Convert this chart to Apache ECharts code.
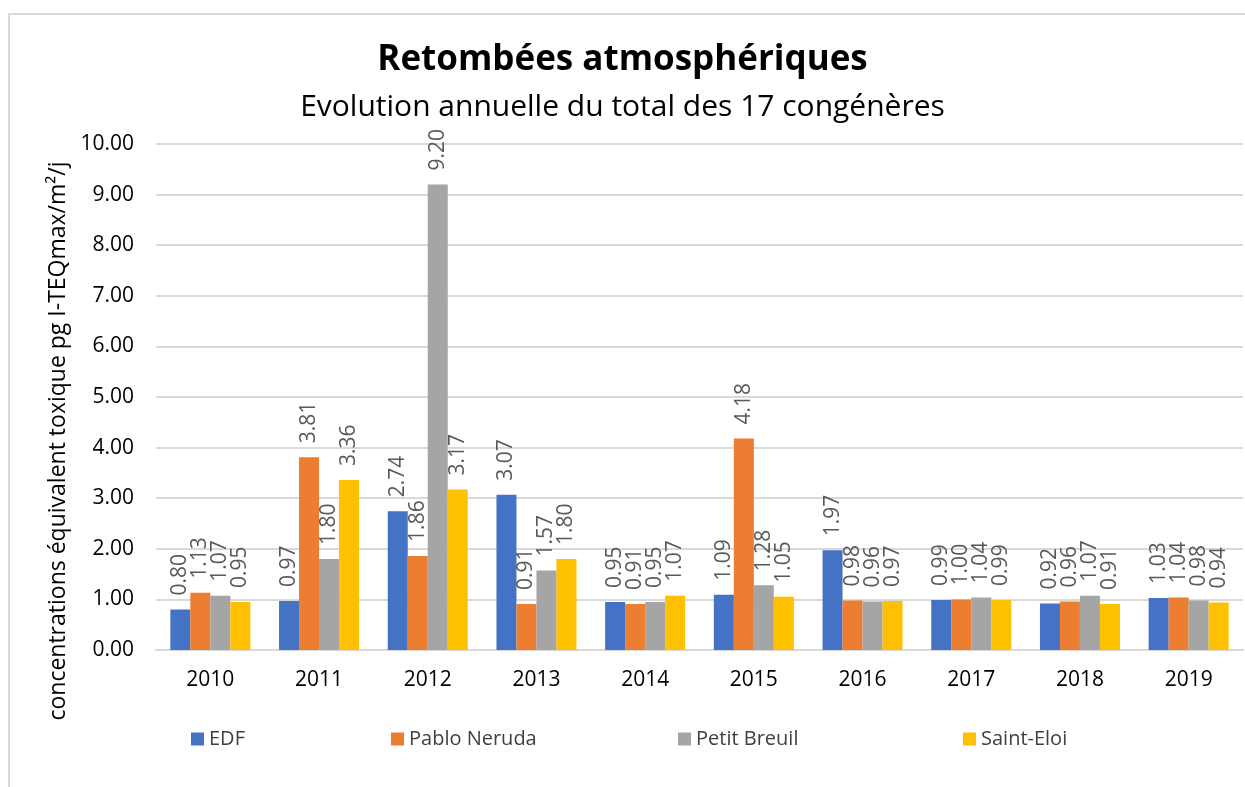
<!DOCTYPE html>
<html>
<head>
<meta charset="utf-8">
<script src="https://cdn.jsdelivr.net/npm/echarts@6/dist/echarts.min.js"></script>
<style>
  html, body { margin: 0; padding: 0; background: #fff; }
  #frame { position: absolute; left: 8px; top: 13px; width: 1237px; height: 774px;
           border-top: 2px solid #d9d9d9; border-left: 2px solid #d9d9d9; box-sizing: border-box; }
  #chart { position: absolute; left: 0; top: 0; width: 1245px; height: 787px; }
</style>
</head>
<body>
<div id="frame"></div>
<div id="chart"></div>
<script>
const years = ['2010', '2011', '2012', '2013', '2014', '2015', '2016', '2017', '2018', '2019'];
const edf = [0.80, 0.97, 2.74, 3.07, 0.95, 1.09, 1.97, 0.99, 0.92, 1.03];
const pabloNeruda = [1.13, 3.81, 1.86, 0.91, 0.91, 4.18, 0.98, 1.00, 0.96, 1.04];
const petitBreuil = [1.07, 1.80, 9.20, 1.57, 0.95, 1.28, 0.96, 1.04, 1.07, 0.98];
const saintEloi = [0.95, 3.36, 3.17, 1.80, 1.07, 1.05, 0.97, 0.99, 0.91, 0.94];
const seriesNames = ['EDF', 'Pablo Neruda', 'Petit Breuil', 'Saint-Eloi'];
const colors = ['#4472C4', '#ED7D31', '#A5A5A5', '#FFC000'];
const legendLeft = [186, 386, 673, 958];

const font = "'Open Sans', 'Noto Sans', sans-serif";
const chart = echarts.init(document.getElementById('chart'));

const allData = [edf, pabloNeruda, petitBreuil, saintEloi];

const option = {
  animation: false,
  textStyle: { fontFamily: font },
  title: [
    {
      text: 'Retombées atmosphériques',
      left: 'center', top: 38,
      textStyle: { fontSize: 35, fontWeight: 'bold', color: '#000', fontFamily: font }
    },
    {
      text: 'Evolution annuelle du total des 17 congénères',
      left: 'center', top: 87,
      textStyle: { fontSize: 30, fontWeight: 'normal', color: '#000', fontFamily: font }
    }
  ],
  legend: seriesNames.map((n, i) => ({
    data: [n],
    left: legendLeft[i], top: 724,
    icon: 'rect', itemWidth: 13, itemHeight: 13, itemGap: 6,
    textStyle: { fontSize: 20, color: '#404040', fontFamily: font }
  })),
  grid: { left: 156, right: 2, top: 144, bottom: 137 },
  xAxis: {
    type: 'category',
    data: years,
    axisLine: { lineStyle: { color: '#d9d9d9', width: 2 } },
    axisTick: { show: false },
    axisLabel: { fontSize: 21, color: '#000', margin: 20, fontFamily: font }
  },
  yAxis: {
    type: 'value',
    min: 0, max: 10, interval: 1,
    name: 'concentrations équivalent toxique pg I-TEQmax/m²/j',
    nameLocation: 'middle',
    nameGap: 86,
    nameTextStyle: { fontSize: 23, color: '#000', fontFamily: font, padding: [0, 88, 0, 0] },
    axisLine: { show: false },
    axisTick: { show: false },
    axisLabel: { fontSize: 21, color: '#000', margin: 22, fontFamily: font,
                 formatter: v => v.toFixed(2) },
    splitLine: { lineStyle: { color: '#d9d9d9', width: 2 } }
  },
  series: seriesNames.map((n, i) => ({
    name: n,
    type: 'bar',
    data: allData[i],
    barWidth: 20,
    barGap: '0%',
    itemStyle: { color: colors[i] },
    label: {
      show: true,
      position: 'top',
      rotate: 90,
      align: 'left',
      verticalAlign: 'middle',
      distance: 14,
      fontSize: 21,
      color: '#595959',
      fontFamily: font,
      formatter: p => p.value.toFixed(2)
    }
  }))
};

chart.setOption(option);
</script>
</body>
</html>
